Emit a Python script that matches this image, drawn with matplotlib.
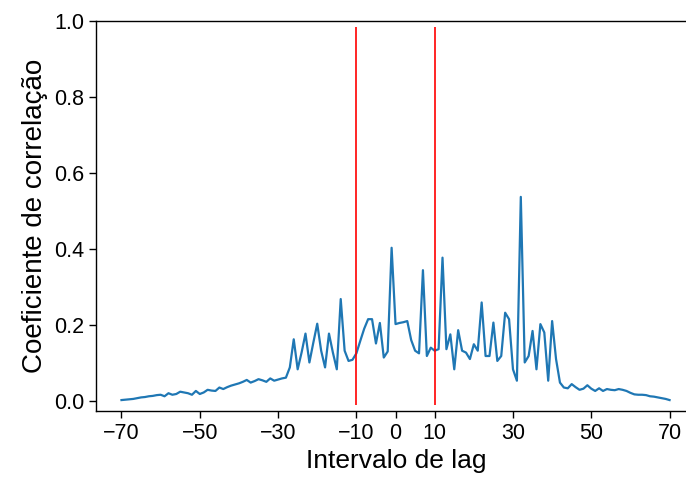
import numpy as np
import matplotlib
matplotlib.use("Agg")
import matplotlib.pyplot as plt

plt.rcParams['font.family'] = ['Liberation Sans', 'DejaVu Sans']

# cross-correlation coefficient for each lag, -70 .. 70
lags = np.arange(-70, 71)
coef = [
    0.002, 0.003, 0.004, 0.005, 0.007, 0.009, 0.010, 0.012, 0.013, 0.015,   # -70 .. -61
    0.016, 0.012, 0.020, 0.016, 0.018, 0.024, 0.022, 0.020, 0.016, 0.026,   # -60 .. -51
    0.018, 0.022, 0.029, 0.027, 0.026, 0.035, 0.031, 0.036, 0.040, 0.043,   # -50 .. -41
    0.046, 0.050, 0.055, 0.048, 0.052, 0.057, 0.054, 0.050, 0.059, 0.053,   # -40 .. -31
    0.056, 0.059, 0.061, 0.088, 0.162, 0.083, 0.127, 0.177, 0.101, 0.153,   # -30 .. -21
    0.203, 0.132, 0.088, 0.177, 0.127, 0.083, 0.268, 0.132, 0.105, 0.108,   # -20 .. -11
    0.125, 0.158, 0.190, 0.215, 0.215, 0.151, 0.205, 0.114, 0.130, 0.403,   # -10 .. -1
    0.202, 0.205, 0.207, 0.210, 0.160, 0.132, 0.125, 0.344, 0.118, 0.140,   #   0 .. 9
    0.132, 0.136, 0.377, 0.136, 0.175, 0.083, 0.186, 0.132, 0.127, 0.110,   #  10 .. 19
    0.149, 0.132, 0.259, 0.118, 0.118, 0.206, 0.105, 0.118, 0.232, 0.215,   #  20 .. 29
    0.083, 0.053, 0.537, 0.101, 0.118, 0.184, 0.083, 0.202, 0.180, 0.053,   #  30 .. 39
    0.210, 0.110, 0.048, 0.035, 0.033, 0.044, 0.036, 0.029, 0.032, 0.041,   #  40 .. 49
    0.032, 0.026, 0.033, 0.026, 0.031, 0.029, 0.028, 0.031, 0.029, 0.026,   #  50 .. 59
    0.021, 0.017, 0.016, 0.016, 0.015, 0.012, 0.011, 0.009, 0.007, 0.005,   #  60 .. 69
    0.002,                                                                  #  70
]
window = [-10, 10]
xticks = [-70, -50, -30, -10, 0, 10, 30, 50, 70]
yticks = [0.0, 0.2, 0.4, 0.6, 0.8, 1.0]

fig = plt.figure(figsize=(6.86, 4.78), dpi=100)
ax = fig.add_axes([0.14, 0.140, 0.876, 0.816])

ax.plot(lags, coef, color='#1f77b4', lw=1.6)
for w in window:
    ax.vlines(w, -0.012, 0.985, color='red', lw=1.2)

ax.set_xlim(-76.5, 77)
ax.set_ylim(-0.027, 1.0)
ax.set_xticks(xticks)
ax.set_yticks(yticks)
ax.set_xticklabels([str(t).replace('-', '\u2212') for t in xticks])
ax.set_yticklabels(['%.1f' % t for t in yticks])
ax.tick_params(labelsize=15.5, length=5, width=1.0)
for s in ax.spines.values():
    s.set_linewidth(1.0)

ax.set_xlabel('Intervalo de lag', fontsize=19)
ax.set_ylabel('Coeficiente de correlação', fontsize=20)

fig.savefig('out.png', dpi=100)
